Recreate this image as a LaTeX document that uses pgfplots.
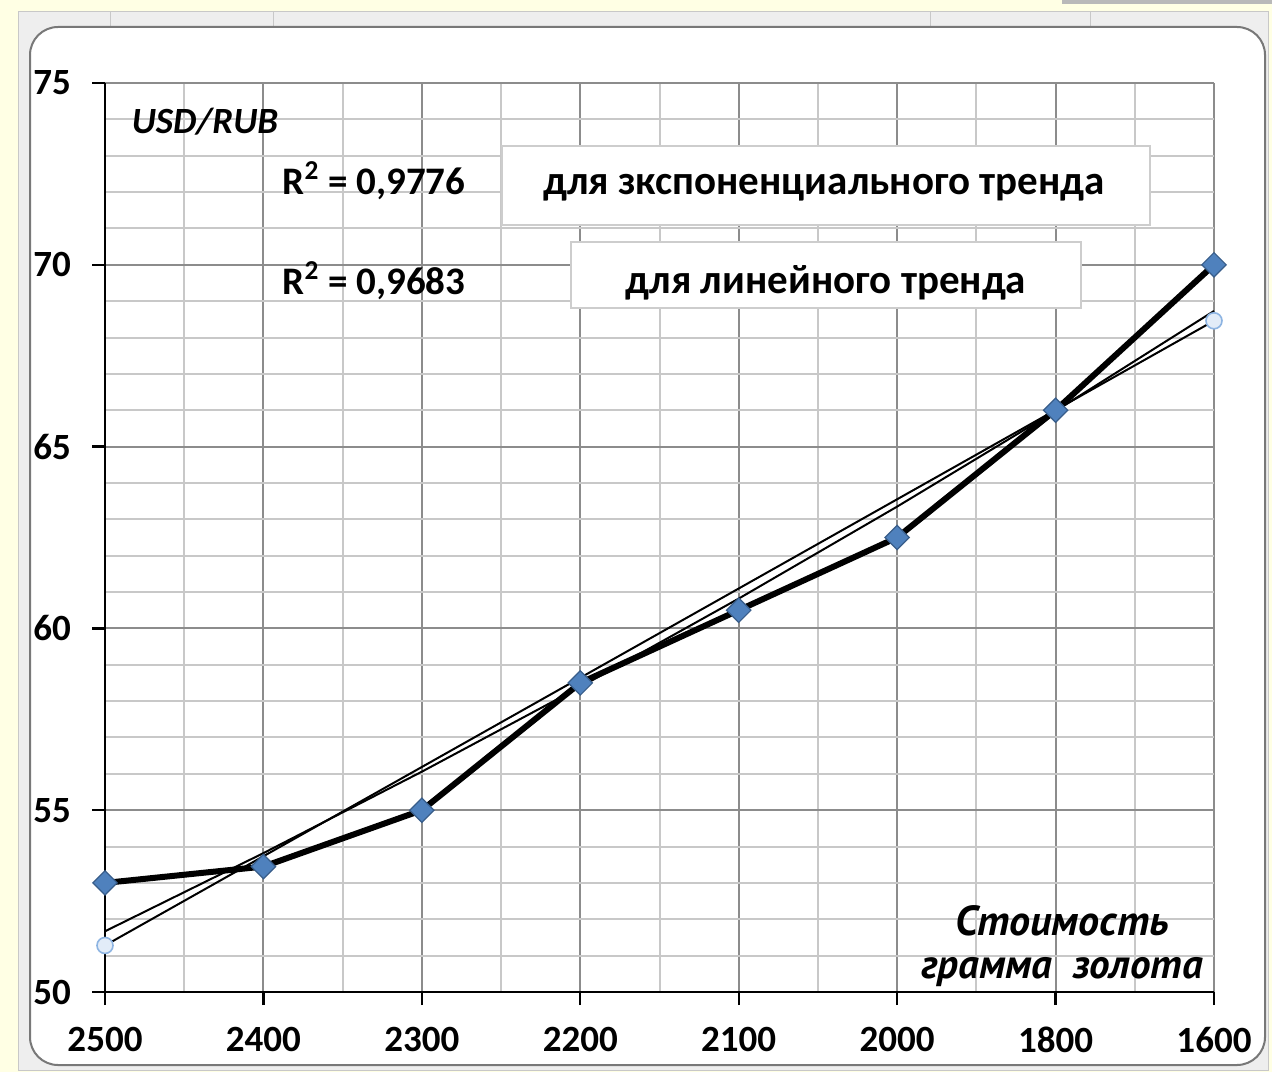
\documentclass[border=0pt]{standalone}
\usepackage{pgfplots}
\pgfplotsset{compat=1.18}
\usepackage{fontspec}
\setmainfont{Carlito}
\newfontfamily\ptsans{PT Sans}

\definecolor{pagebg}{RGB}{255,255,228}
\definecolor{framebg}{RGB}{238,238,238}
\definecolor{frameline}{RGB}{200,200,200}
\definecolor{chartborder}{RGB}{120,120,120}
\definecolor{gmajor}{RGB}{140,140,140}
\definecolor{gminor}{RGB}{200,200,200}
\definecolor{mblue}{RGB}{79,129,189}
\definecolor{mblueD}{RGB}{56,93,138}
\definecolor{lblue}{RGB}{141,180,226}
\definecolor{boxline}{RGB}{205,205,205}

\begin{document}
\begin{tikzpicture}
\useasboundingbox (0,0) rectangle (636pt,536pt);

% sheet background and chart frame (units: half points, y downwards)
\begin{scope}[x=0.5pt,y=-0.5pt,yshift=536pt]
  \fill[pagebg] (0,0) rectangle (1272,1072);
  \fill[gray!55] (1062,0) rectangle (1272,4);
  \fill[framebg] (18,12) rectangle (1268,1070);
  \draw[frameline,line width=0.5pt] (18,12) rectangle (1268,1070);
  \draw[frameline,line width=0.5pt] (110,12) -- (110,27) (273,12) -- (273,27)
        (930,12) -- (930,27) (1090,12) -- (1090,27);
  \filldraw[fill=white,draw=chartborder,line width=1pt,rounded corners=14pt]
        (30,27) rectangle (1265,1065);
\end{scope}

\begin{axis}[
  at={(52.5pt,40pt)}, anchor=south west,
  scale only axis, width=554.5pt, height=454.5pt,
  xmin=0, xmax=7, ymin=50, ymax=75,
  clip=false,
  axis x line=bottom, axis y line=left,
  axis line style={-, black, line width=1.2pt},
  xtick={0,...,7},
  xticklabels={2500,2400,2300,2200,2100,2000,1800,1600},
  ytick={50,55,...,75},
  yticklabels={50,55,60,65,70,75},
  minor x tick num=1, minor y tick num=4,
  grid=both,
  major grid style={draw=gmajor, line width=1pt},
  minor grid style={draw=gminor, line width=1pt},
  tick align=outside,
  major tick length=6.5pt, minor tick length=0pt,
  major tick style={black, line width=1.2pt},
  ticklabel style={font=\bfseries\fontsize{18.5}{20}\selectfont},
  xticklabel style={yshift=-7.5pt},
  yticklabel style={xshift=-7pt},
]
  % exponential trend
  \addplot[black, line width=1pt] coordinates {
    (0,51.67) (1,53.82) (2,56.06) (3,58.39) (4,60.82) (5,63.35) (6,65.98) (7,68.73)};
  % linear trend
  \addplot[black, line width=1pt] coordinates {(0,51.28) (7,68.46)};
  \addplot[only marks, mark=*, mark size=4pt,
           mark options={draw=lblue, fill=lblue!25, line width=0.8pt}]
    coordinates {(0,51.28) (7,68.46)};
  % USD/RUB against the price of a gram of gold
  \addplot[black, line width=3pt, mark=square*, mark size=4.3pt,
           mark options={rotate=45, fill=mblue, draw=mblueD, line width=0.6pt}]
    coordinates {(0,53.0) (1,53.45) (2,55.0) (3,58.5) (4,60.5) (5,62.5) (6,66.0) (7,70.0)};
\end{axis}

\begin{scope}[x=0.5pt,y=-0.5pt,yshift=536pt]
  \node[font=\bfseries\itshape\fontsize{18.5}{20}\selectfont] at (205,122) {USD/RUB};
  \node[font=\bfseries\fontsize{19.5}{22}\selectfont] at (374,181) {R\textsuperscript{2} = 0,9776};
  \node[font=\bfseries\fontsize{19.5}{22}\selectfont] at (374,281) {R\textsuperscript{2} = 0,9683};
  \filldraw[fill=white, draw=boxline, line width=0.8pt] (502,146) rectangle (1150,225);
  \node[font=\bfseries\fontsize{20.5}{22}\selectfont] at (824,188) {для зкспоненциального тренда};
  \filldraw[fill=white, draw=boxline, line width=0.8pt] (571,242) rectangle (1081,308);
  \node[font=\bfseries\fontsize{20.5}{22}\selectfont] at (826,283) {для линейного тренда};
  \node[font=\ptsans\bfseries\itshape\fontsize{21}{23}\selectfont] at (1062,921) {Стоимость};
  \node[font=\ptsans\bfseries\itshape\fontsize{20.5}{23}\selectfont] at (1062,972) {грамма~ золота};
\end{scope}
\end{tikzpicture}
\end{document}
